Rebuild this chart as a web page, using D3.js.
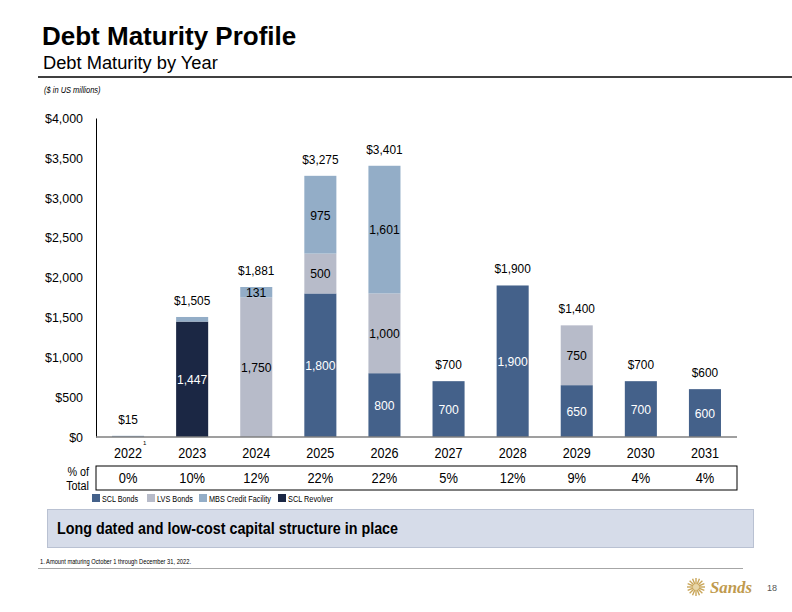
<!DOCTYPE html>
<html>
<head>
<meta charset="utf-8">
<script src="https://cdn.jsdelivr.net/npm/d3@7/dist/d3.min.js"></script>
<style>
  body { margin: 0; background: #fff; }
  svg { display: block; font-family: "Liberation Sans", Arial, sans-serif; }
</style>
</head>
<body>
<svg id="chart" width="792" height="612"></svg>
<script>
const years = ["2022", "2023", "2024", "2025", "2026", "2027", "2028", "2029", "2030", "2031"];
const sclBonds   = [0, 0, 0, 1800, 800, 700, 1900, 650, 700, 600];
const sclRevolver= [0, 1447, 0, 0, 0, 0, 0, 0, 0, 0];
const lvsBonds   = [0, 0, 1750, 500, 1000, 0, 0, 750, 0, 0];
const mbsCredit  = [15, 58, 131, 975, 1601, 0, 0, 0, 0, 0];
const totals     = [15, 1505, 1881, 3275, 3401, 700, 1900, 1400, 700, 600];
const percents   = ["0%", "10%", "12%", "22%", "22%", "5%", "12%", "9%", "4%", "4%"];
const yTicks     = [0, 500, 1000, 1500, 2000, 2500, 3000, 3500, 4000];
// segments that carry a value label
const labelled = {
  sclBonds:    [false, false, false, true, true, true, true, true, true, true],
  sclRevolver: [false, true, false, false, false, false, false, false, false, false],
  lvsBonds:    [false, false, true, true, true, false, false, true, false, false],
  mbsCredit:   [false, false, true, true, true, false, false, false, false, false]
};

const seriesDefs = [
  { key: "sclBonds", name: "SCL Bonds", values: sclBonds, color: "#44618a", text: "#ffffff" },
  { key: "sclRevolver", name: "SCL Revolver", values: sclRevolver, color: "#1b2744", text: "#ffffff" },
  { key: "lvsBonds", name: "LVS Bonds", values: lvsBonds, color: "#b7bbc9", text: "#000000" },
  { key: "mbsCredit", name: "MBS Credit Facility", values: mbsCredit, color: "#93adc7", text: "#000000" }
];
const legendOrder = ["sclBonds", "lvsBonds", "mbsCredit", "sclRevolver"];

const svg = d3.select("#chart");
const fmt = d3.format(",");

// condense text horizontally by a factor
function condense(sel, f) {
  sel.each(function () {
    const len = this.getComputedTextLength();
    d3.select(this).attr("textLength", len * f).attr("lengthAdjust", "spacingAndGlyphs");
  });
}

// Header
svg.append("text").attr("x", 42).attr("y", 45).attr("font-size", 26).attr("font-weight", "bold")
  .attr("fill", "#000").text("Debt Maturity Profile");
svg.append("text").attr("x", 43).attr("y", 69).attr("font-size", 18.3)
  .attr("fill", "#000").text("Debt Maturity by Year");
svg.append("line").attr("x1", 38).attr("x2", 792).attr("y1", 77).attr("y2", 77)
  .attr("stroke", "#000").attr("stroke-width", 1.3);
svg.append("text").attr("x", 44).attr("y", 93).attr("font-size", 8.5).attr("font-style", "italic")
  .attr("fill", "#000").text("($ in US millions)").call(condense, 0.88);

// Scales
const x = d3.scaleBand().domain(years).range([96, 737]).paddingInner(0.5).paddingOuter(0.25);
const y = d3.scaleLinear().domain([0, 4000]).range([437, 118]);

// Y axis
const yAxis = d3.axisLeft(y).tickValues(yTicks).tickSize(0).tickPadding(13)
  .tickFormat(d => "$" + fmt(d));
const gy = svg.append("g").attr("transform", "translate(96,0)").call(yAxis);
gy.select(".domain").attr("stroke", "#000").attr("stroke-width", 1);
gy.selectAll("text").attr("font-size", 13.5).attr("fill", "#000")
  .attr("font-family", "'Liberation Sans', Arial, sans-serif").call(condense, 0.92);

// Stack
const table = years.map((yr, i) => {
  const o = { year: yr, i };
  seriesDefs.forEach(s => o[s.key] = s.values[i]);
  return o;
});
const stack = d3.stack().keys(seriesDefs.map(s => s.key));
const stacked = stack(table);

const gBars = svg.append("g");
stacked.forEach((layer, li) => {
  const def = seriesDefs[li];
  gBars.selectAll(null).data(layer.filter(d => d[1] - d[0] > 0)).enter().append("rect")
    .attr("x", d => x(d.data.year))
    .attr("width", x.bandwidth())
    .attr("y", d => y(d[1]))
    .attr("height", d => Math.max(1, y(d[0]) - y(d[1])))
    .attr("fill", def.color);
});

// Segment labels
stacked.forEach((layer, li) => {
  const def = seriesDefs[li];
  layer.forEach((d, i) => {
    if (!labelled[def.key][i]) return;
    const v = d[1] - d[0];
    svg.append("text")
      .attr("x", x(d.data.year) + x.bandwidth() / 2)
      .attr("y", (y(d[0]) + y(d[1])) / 2)
      .attr("dy", "0.36em")
      .attr("text-anchor", "middle")
      .attr("font-size", 13.5)
      .attr("fill", def.text)
      .text(fmt(v))
      .call(condense, 0.9);
  });
});

// Total labels
svg.selectAll(".tot").data(years).enter().append("text")
  .attr("x", d => x(d) + x.bandwidth() / 2)
  .attr("y", (d, i) => y(totals[i]) - 12)
  .attr("text-anchor", "middle")
  .attr("font-size", 13.5)
  .attr("fill", "#000")
  .text((d, i) => "$" + fmt(totals[i]))
  .call(condense, 0.88);

// Baseline
svg.append("line").attr("x1", 96).attr("x2", 737).attr("y1", 437).attr("y2", 437)
  .attr("stroke", "#7f7f7f").attr("stroke-width", 1.5);

// X axis labels
const xAxis = d3.axisBottom(x).tickSize(0).tickPadding(11);
const gx = svg.append("g").attr("transform", "translate(0,437)").call(xAxis);
gx.select(".domain").remove();
gx.selectAll("text").attr("font-size", 14).attr("fill", "#000")
  .attr("font-family", "'Liberation Sans', Arial, sans-serif").call(condense, 0.9);
// footnote marker
svg.append("text").attr("x", x("2022") + x.bandwidth() / 2 + 15).attr("y", 445)
  .attr("font-size", 6).attr("fill", "#000").text("1");

// Percent table
svg.append("rect").attr("x", 96).attr("y", 466).attr("width", 641).attr("height", 24)
  .attr("fill", "none").attr("stroke", "#000").attr("stroke-width", 1);
svg.append("text").attr("x", 89).attr("y", 476).attr("text-anchor", "end").attr("font-size", 12)
  .attr("fill", "#000").text("% of").call(condense, 0.9);
svg.append("text").attr("x", 89).attr("y", 490).attr("text-anchor", "end").attr("font-size", 12)
  .attr("fill", "#000").text("Total").call(condense, 0.9);
svg.selectAll(".pct").data(years).enter().append("text")
  .attr("x", d => x(d) + x.bandwidth() / 2)
  .attr("y", 483)
  .attr("text-anchor", "middle")
  .attr("font-size", 14)
  .attr("fill", "#000")
  .text((d, i) => percents[i])
  .call(condense, 0.92);

// Legend
const legendX = [92, 147, 199, 278];
const legendW = [36, 36, 62, 45];
legendOrder.forEach((k, i) => {
  const def = seriesDefs.find(s => s.key === k);
  const g = svg.append("g").attr("transform", `translate(${legendX[i]},494)`);
  g.append("rect").attr("width", 8).attr("height", 8).attr("fill", def.color);
  g.append("text").attr("x", 10).attr("y", 7.5).attr("font-size", 8.5).attr("fill", "#000")
    .attr("textLength", legendW[i]).attr("lengthAdjust", "spacingAndGlyphs").text(def.name);
});

// Callout box
svg.append("rect").attr("x", 47.5).attr("y", 509.5).attr("width", 706).attr("height", 38)
  .attr("fill", "#d6dce9").attr("stroke", "#b9c1d2").attr("stroke-width", 1);
svg.append("text").attr("x", 57).attr("y", 534).attr("font-size", 16.5).attr("font-weight", "bold")
  .attr("fill", "#000").attr("textLength", 341).attr("lengthAdjust", "spacingAndGlyphs")
  .text("Long dated and low-cost capital structure in place");

// Footnote
svg.append("text").attr("x", 40).attr("y", 564).attr("font-size", 6.5).attr("fill", "#000")
  .attr("textLength", 151).attr("lengthAdjust", "spacingAndGlyphs")
  .text("1. Amount maturing October 1 through December 31, 2022.");
svg.append("line").attr("x1", 38).attr("x2", 743).attr("y1", 568.5).attr("y2", 568.5)
  .attr("stroke", "#a6a6a6").attr("stroke-width", 1.2);

// Logo
const logo = svg.append("g").attr("transform", "translate(696,587)");
for (let a = 0; a < 16; a++) {
  const ang = a * Math.PI / 8;
  logo.append("line").attr("x1", 0).attr("y1", 0)
    .attr("x2", Math.cos(ang) * 9).attr("y2", Math.sin(ang) * 9)
    .attr("stroke", "#c9a65a").attr("stroke-width", 1.4);
}
logo.append("circle").attr("r", 3).attr("fill", "#e8d6a8");
svg.append("text").attr("x", 710).attr("y", 593).attr("font-size", 16).attr("font-style", "italic")
  .attr("font-weight", "bold").attr("font-family", "'Liberation Serif', 'DejaVu Serif', serif")
  .attr("fill", "#c09a4e").attr("textLength", 42).attr("lengthAdjust", "spacingAndGlyphs").text("Sands");
svg.append("text").attr("x", 767).attr("y", 591).attr("font-size", 9).attr("fill", "#555").text("18");
</script>
</body>
</html>
